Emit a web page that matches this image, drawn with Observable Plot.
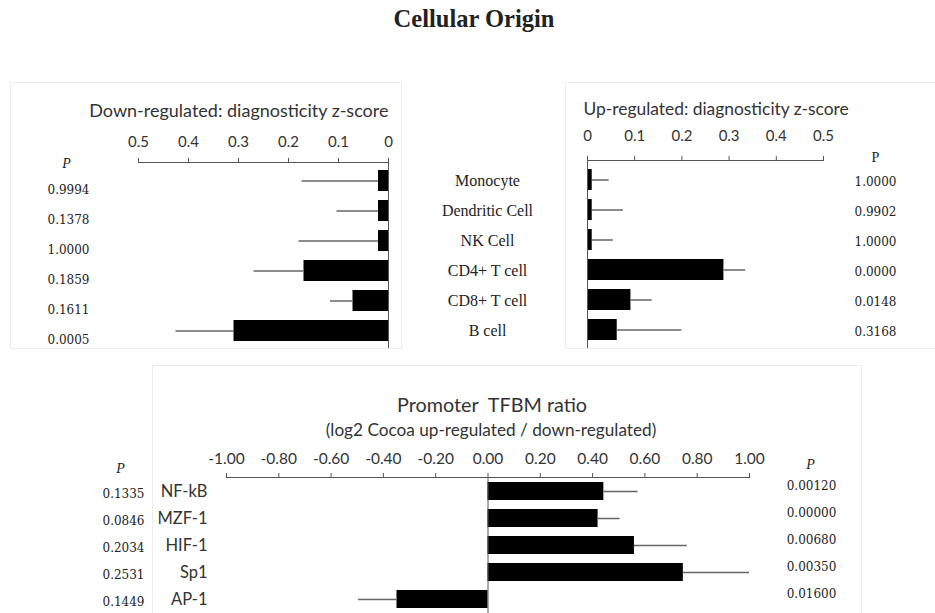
<!DOCTYPE html>
<html>
<head>
<meta charset="utf-8">
<script src="https://cdn.jsdelivr.net/npm/d3@7"></script>
<script src="https://cdn.jsdelivr.net/npm/@observablehq/plot@0.6"></script>
<style>
  body { margin: 0; background: #fff; }
  #wrap { position: relative; width: 935px; height: 613px; overflow: hidden; background: #fff; }
  #wrap > * { position: absolute; }
  #title { left: 0; top: 5px; width: 948px; text-align: center; font-family: "Liberation Serif", serif; font-weight: bold; font-size: 24.5px; color: #222; }
  .box { border: 1px solid #ececec; box-sizing: border-box; }
</style>
</head>
<body>
<div id="wrap">
  <div id="title">Cellular Origin</div>
  <div class="box" style="left:10px;top:82px;width:392px;height:267px"></div>
  <div class="box" style="left:565px;top:82px;width:375px;height:267px"></div>
  <div class="box" style="left:152px;top:365px;width:710px;height:260px"></div>
</div>
<script>
// ---- data ----
const cells = ["Monocyte", "Dendritic Cell", "NK Cell", "CD4+ T cell", "CD8+ T cell", "B cell"];
const downValues = [0.02, 0.02, 0.02, 0.169, 0.071, 0.309];
const downErrEnd = [0.173, 0.103, 0.179, 0.269, 0.116, 0.425];
const downP = ["0.9994", "0.1378", "1.0000", "0.1859", "0.1611", "0.0005"];
const upValues = [0.01, 0.01, 0.01, 0.289, 0.092, 0.063];
const upErrEnd = [0.046, 0.076, 0.055, 0.335, 0.137, 0.2];
const upP = ["1.0000", "0.9902", "1.0000", "0.0000", "0.0148", "0.3168"];
const zTicks = [0, 0.1, 0.2, 0.3, 0.4, 0.5];
const downTitle = "Down-regulated: diagnosticity z-score";
const upTitle = "Up-regulated: diagnosticity z-score";

const factors = ["NF-kB", "MZF-1", "HIF-1", "Sp1", "AP-1"];
const ratioValues = [0.443, 0.421, 0.56, 0.747, -0.348];
const ratioErrEnd = [0.574, 0.505, 0.762, 1.0, -0.495];
const ratioPLeft = ["0.1335", "0.0846", "0.2034", "0.2531", "0.1449"];
const ratioPRight = ["0.00120", "0.00000", "0.00680", "0.00350", "0.01600"];
const ratioTicks = [-1, -0.8, -0.6, -0.4, -0.2, 0, 0.2, 0.4, 0.6, 0.8, 1];
const ratioTitle = "Promoter  TFBM ratio";
const ratioSubtitle = "(log2 Cocoa up-regulated / down-regulated)";

// ---- tables ----
const downData = cells.map((c, i) => ({cell: c, value: downValues[i], err: downErrEnd[i], p: downP[i]}));
const upData = cells.map((c, i) => ({cell: c, value: upValues[i], err: upErrEnd[i], p: upP[i]}));
const ratioData = factors.map((f, i) => ({factor: f, value: ratioValues[i], err: ratioErrEnd[i], pl: ratioPLeft[i], pr: ratioPRight[i]}));

const SANS = "Lato, 'Liberation Sans', sans-serif";
const SERIF = "'Liberation Serif', 'Times New Roman', serif";
const NUM = "'DejaVu Serif', 'Liberation Serif', serif";
const PSIZE = 12;
const TXT = "#333";
const AX = "#555";
const ERR = "#666";

function place(svg, left, top) {
  svg.style.position = "absolute";
  svg.style.left = left + "px";
  svg.style.top = top + "px";
  document.getElementById("wrap").appendChild(svg);
}

// ---- top-left: down-regulated ----
const left = Plot.plot({
  width: 560, height: 270,
  marginLeft: 138, marginRight: 172, marginTop: 82, marginBottom: 2,
  style: {fontFamily: SANS, fontSize: "15px", color: TXT, background: "transparent", overflow: "visible"},
  x: {domain: [0, 0.5], reverse: true, nice: false},
  y: {domain: cells, paddingInner: 0.31, paddingOuter: 0.2, axis: null},
  marks: [
    Plot.barX(downData, {y: "cell", x: "value", fill: "#000"}),
    Plot.ruleY(downData, {y: "cell", x1: "value", x2: "err", stroke: ERR, strokeWidth: 1.5}),
    Plot.frame({anchor: "top", stroke: AX}),
    Plot.ruleX([0], {stroke: AX}),
    Plot.axisX({anchor: "top", ticks: zTicks, tickFormat: d => String(d), tickSize: 5, tickPadding: 11, fontSize: 15, color: TXT, stroke: AX, label: null}),
    Plot.text([downTitle], {frameAnchor: "top-right", text: d => d, dy: -58, textAnchor: "end", fontSize: 18, fill: TXT}),
    Plot.text(["P"], {frameAnchor: "top-left", text: d => d, dx: -72, dy: -4, textAnchor: "middle", fontFamily: SERIF, fontStyle: "italic", fontSize: 14, fill: "#222"}),
    Plot.text(downData, {y: "cell", text: "p", frameAnchor: "left", dx: -70, dy: 9, textAnchor: "middle", fontFamily: NUM, fontSize: PSIZE, fill: "#222"}),
    Plot.text(downData, {y: "cell", text: "cell", frameAnchor: "right", dx: 99, textAnchor: "middle", fontFamily: SERIF, fontSize: 16, fill: "#222"})
  ]
});
place(left, 0, 80);

// ---- top-right: up-regulated ----
const right = Plot.plot({
  width: 375, height: 270,
  marginLeft: 27, marginRight: 112, marginTop: 80, marginBottom: 2,
  style: {fontFamily: SANS, fontSize: "15px", color: TXT, background: "transparent", overflow: "visible"},
  x: {domain: [0, 0.5], nice: false},
  y: {domain: cells, paddingInner: 0.31, paddingOuter: 0.2, axis: null},
  marks: [
    Plot.barX(upData, {y: "cell", x: "value", fill: "#000"}),
    Plot.ruleY(upData, {y: "cell", x1: "value", x2: "err", stroke: ERR, strokeWidth: 1.5}),
    Plot.frame({anchor: "top", stroke: AX}),
    Plot.ruleX([0], {stroke: AX}),
    Plot.axisX({anchor: "top", ticks: zTicks, tickFormat: d => String(d), tickSize: 5, tickPadding: 15, fontSize: 15, color: TXT, stroke: AX, label: null}),
    Plot.text([upTitle], {frameAnchor: "top-left", text: d => d, dx: -4, dy: -58, textAnchor: "start", fontSize: 17.4, fill: TXT}),
    Plot.text(["P"], {frameAnchor: "top-right", text: d => d, dx: 52, dy: -8, textAnchor: "middle", fontFamily: SERIF, fontSize: 14, fill: "#222"}),
    Plot.text(upData, {y: "cell", text: "p", frameAnchor: "right", dx: 52, dy: 2, textAnchor: "middle", fontFamily: NUM, fontSize: PSIZE, fill: "#222"})
  ]
});
place(right, 560, 80);

// ---- bottom: promoter TFBM ratio ----
const bottom = Plot.plot({
  width: 935, height: 243,
  marginLeft: 226, marginRight: 186, marginTop: 107, marginBottom: 0,
  style: {fontFamily: SANS, fontSize: "15px", color: TXT, background: "transparent", overflow: "visible"},
  x: {domain: [-1, 1], nice: false},
  y: {domain: factors, paddingInner: 0.34, paddingOuter: 0.17, axis: null},
  marks: [
    Plot.barX(ratioData, {y: "factor", x: "value", fill: "#000"}),
    Plot.ruleY(ratioData, {y: "factor", x1: "value", x2: "err", stroke: ERR, strokeWidth: 1.5}),
    Plot.frame({anchor: "top", stroke: AX}),
    Plot.ruleX([0], {stroke: AX}),
    Plot.axisX({anchor: "top", ticks: ratioTicks, tickFormat: d => d.toFixed(2), tickSize: 5, tickPadding: 9, fontSize: 15.5, color: TXT, stroke: AX, label: null}),
    Plot.text([ratioTitle], {frameAnchor: "top", text: d => d, dx: 4, dy: -80, fontSize: 19.8, fill: TXT}),
    Plot.text([ratioSubtitle], {frameAnchor: "top", text: d => d, dx: 3, dy: -54, fontSize: 17.2, fill: TXT}),
    Plot.text(ratioData, {y: "factor", text: "factor", frameAnchor: "left", dx: -19, textAnchor: "end", fontSize: 16.5, fill: TXT}),
    Plot.text(["P"], {frameAnchor: "top-left", text: d => d, dx: -106, dy: -14, textAnchor: "middle", fontFamily: SERIF, fontStyle: "italic", fontSize: 14, fill: "#222"}),
    Plot.text(ratioData, {y: "factor", text: "pl", frameAnchor: "left", dx: -103, dy: 3, textAnchor: "middle", fontFamily: NUM, fontSize: PSIZE, fill: "#222"}),
    Plot.text(["P"], {frameAnchor: "top-right", text: d => d, dx: 61, dy: -18, textAnchor: "middle", fontFamily: SERIF, fontStyle: "italic", fontSize: 14, fill: "#222"}),
    Plot.text(ratioData, {y: "factor", text: "pr", frameAnchor: "right", dx: 62, dy: -5, textAnchor: "middle", fontFamily: NUM, fontSize: PSIZE, fill: "#222"})
  ]
});
place(bottom, 0, 370);
</script>
</body>
</html>
